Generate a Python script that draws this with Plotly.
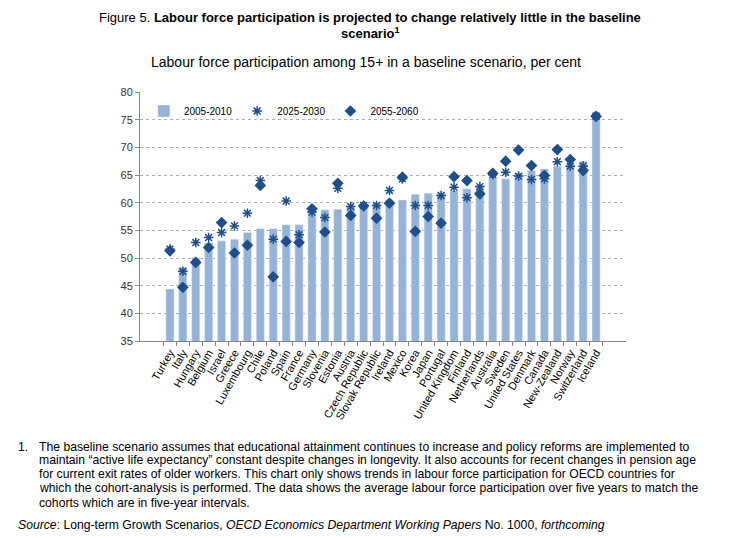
import plotly.graph_objects as go

countries = ["Turkey", "Italy", "Hungary", "Belgium", "Israel", "Greece", "Luxembourg", "Chile",
             "Poland", "Spain", "France", "Germany", "Slovenia", "Estonia", "Austria",
             "Czech Republic", "Slovak Republic", "Ireland", "Mexico", "Korea", "Japan",
             "Portugal", "United Kingdom", "Finland", "Netherlands", "Australia", "Sweden",
             "United States", "Denmark", "Canada", "New-Zealand", "Norway", "Switzerland", "Iceland"]

v2005 = [44.4, 48.3, 50.1, 52.7, 53.1, 53.4, 54.6, 55.3, 55.3, 56.0, 56.0, 58.7, 58.7, 58.8, 59.2,
         59.9, 60.0, 60.5, 60.5, 61.5, 61.7, 61.7, 62.2, 62.5, 63.0, 64.5, 64.3, 65.3, 65.8, 66.1,
         66.6, 67.0, 67.5, 76.4]
v2025 = [51.6, 47.6, 52.8, 53.7, 54.6, 55.8, 58.1, 64.0, 53.4, 60.3, 54.2, 58.3, 57.3, 62.6, 59.3,
         59.5, 59.5, 62.2, 64.3, 59.5, 59.5, 61.3, 62.8, 60.9, 62.9, 65.1, 65.5, 64.8, 64.2, 64.3,
         67.4, 66.6, 66.6, 75.6]
v2055 = [51.3, 44.7, 49.2, 51.9, 56.4, 50.9, 52.3, 63.1, 46.6, 53.0, 52.8, 58.9, 54.7, 63.5, 57.7,
         59.4, 57.2, 59.9, 64.6, 54.8, 57.5, 56.3, 64.7, 64.0, 61.6, 65.3, 67.5, 69.5, 66.7, 64.9,
         69.6, 67.8, 65.8, 75.6]

y_ticks = [35, 40, 45, 50, 55, 60, 65, 70, 75, 80]

BAR = "#95B3D7"
DARK = "#1F4E8C"
FONT = "Liberation Sans, Arial, sans-serif"

fig = go.Figure()
fig.add_trace(go.Bar(x=countries, y=v2005, name="2005-2010", marker_color=BAR, width=0.63))
fig.add_trace(go.Scatter(x=countries, y=v2025, name="2025-2030", mode="markers",
                         marker=dict(symbol="asterisk-open", size=8, color=DARK,
                                     line=dict(width=1.5, color=DARK))))
fig.add_trace(go.Scatter(x=countries, y=v2055, name="2055-2060", mode="markers",
                         marker=dict(symbol="diamond", size=9, color=DARK,
                                     line=dict(width=0))))

# page body has an 8px margin: figure coordinates = reference pixels - 8
fig.update_layout(
    width=739, height=538,
    margin=dict(l=132, r=121, t=84, b=205, autoexpand=False),
    paper_bgcolor="white", plot_bgcolor="white",
    font=dict(family=FONT, color="#000000"),
    showlegend=True,
    legend=dict(orientation="h", x=0.008, y=(341 - 111) / 249, xanchor="left", yanchor="middle",
                font=dict(size=10, color="#000000"), bgcolor="rgba(0,0,0,0)",
                itemwidth=30),
)
fig.update_yaxes(range=[35, 80], tickvals=y_ticks, showgrid=True,
                 gridcolor="#ADADAD", griddash="dot", gridwidth=1,
                 showline=True, linecolor="#868686", linewidth=1,
                 ticks="outside", ticklen=4, tickcolor="#868686",
                 tickfont=dict(size=11, color="#333333"), zeroline=False, automargin=False)
fig.update_xaxes(showline=True, linecolor="#868686", linewidth=1,
                 ticks="outside", ticklen=4, tickcolor="#868686", tickson="boundaries",
                 tickmode="linear", dtick=1,
                 tickangle=-60, tickfont=dict(size=11, color="#000000"),
                 showgrid=False, automargin=False)


def px_x(px):
    return (px - 140) / 486


def px_y(py):
    return (341 - py) / 249


fig.add_annotation(text="Figure 5. <b>Labour force participation is projected to change relatively little in the baseline</b>",
                   xref="paper", yref="paper", x=px_x(370), y=px_y(17), xanchor="center", yanchor="middle",
                   showarrow=False, font=dict(size=13, family=FONT))
fig.add_annotation(text="<b>scenario<sup>1</sup></b>",
                   xref="paper", yref="paper", x=px_x(370), y=px_y(33), xanchor="center", yanchor="middle",
                   showarrow=False, font=dict(size=13, family=FONT))
fig.add_annotation(text="Labour force participation among 15+ in a baseline scenario, per cent",
                   xref="paper", yref="paper", x=px_x(366), y=px_y(62),
                   xanchor="center", yanchor="middle", showarrow=False,
                   font=dict(size=14, family=FONT))

foot_lines = [
    "The baseline scenario assumes that educational attainment continues to increase and policy reforms are implemented to",
    "maintain \u201cactive life expectancy\u201d constant despite changes in longevity. It also accounts for recent changes in pension age",
    "for current exit rates of older workers. This chart only shows trends in labour force participation for OECD countries for",
    "which the cohort-analysis is performed. The data shows the average labour force participation over five years to match the",
    "cohorts which are in five-year intervals.",
]
foot_y = [446.5, 459.5, 474, 488, 503]

fig.add_annotation(text="1.", xref="paper", yref="paper", x=px_x(16), y=px_y(foot_y[0]),
                   xanchor="left", yanchor="middle", showarrow=False, font=dict(size=12.2))
for line, yy in zip(foot_lines, foot_y):
    fig.add_annotation(text=line, xref="paper", yref="paper", x=px_x(37), y=px_y(yy),
                       xanchor="left", yanchor="middle", showarrow=False, font=dict(size=12.2))
fig.add_annotation(text="<i>Source</i>: Long-term Growth Scenarios, <i>OECD Economics Department Working Papers</i> No. 1000, <i>forthcoming</i>",
                   xref="paper", yref="paper", x=px_x(16), y=px_y(525),
                   xanchor="left", yanchor="middle", showarrow=False, font=dict(size=12.2))

fig.write_html("out.html")
